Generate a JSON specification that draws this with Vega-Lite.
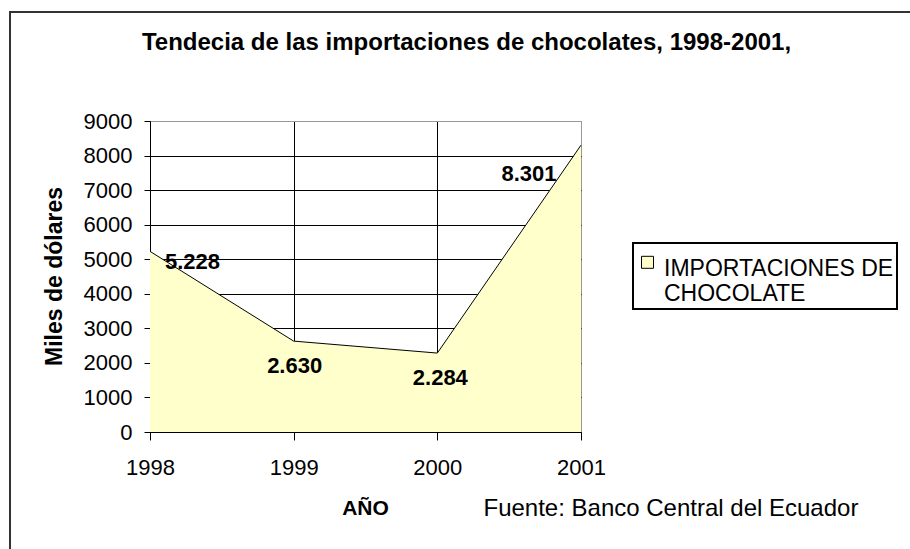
{
  "$schema": "https://vega.github.io/schema/vega-lite/v6.json",
  "width": 431,
  "height": 311,
  "autosize": {"type": "none"},
  "padding": {"left": 150, "top": 121, "right": 329, "bottom": 117},
  "background": "white",
  "config": {
    "font": "Liberation Sans",
    "view": {"stroke": "#999999", "strokeWidth": 1},
    "legend": {"strokeWidth": 2},
    "locale": {"number": {"decimal": ",", "thousands": ".", "grouping": [3], "currency": ["$", ""]}}
  },
  "data": {
    "values": [
      {"anio": 1998, "valor": 5228, "serie": "IMPORTACIONES DE CHOCOLATE"},
      {"anio": 1999, "valor": 2630, "serie": "IMPORTACIONES DE CHOCOLATE"},
      {"anio": 2000, "valor": 2284, "serie": "IMPORTACIONES DE CHOCOLATE"},
      {"anio": 2001, "valor": 8301, "serie": "IMPORTACIONES DE CHOCOLATE"}
    ]
  },
  "layer": [
    {
      "layer": [
        {
          "mark": {"type": "area", "opacity": 1},
          "encoding": {
            "x": {
              "field": "anio", "type": "quantitative",
              "scale": {"domain": [1998, 2001], "nice": false, "zero": false},
              "axis": {
                "orient": "bottom",
                "values": [1998, 1999, 2000, 2001], "tickCount": 4, "format": "d", "labelOverlap": false,
                "title": "AÑO", "titleX": 215, "titleY": 76, "titleAlign": "center", "titleBaseline": "middle",
                "titleFontSize": 21, "titleFontWeight": "bold", "titleColor": "black",
                "labelFontSize": 22, "labelColor": "black", "labelPadding": 17, "labelFlush": false,
                "tickSize": 8, "tickColor": "black", "domainColor": "black",
                "grid": true,
                "gridColor": {"condition": {"test": "datum.value == 2001", "value": "#999999"}, "value": "black"}
              }
            },
            "y": {
              "field": "valor", "type": "quantitative",
              "scale": {"domain": [0, 9000], "nice": false},
              "axis": {
                "orient": "left",
                "values": [0, 1000, 2000, 3000, 4000, 5000, 6000, 7000, 8000, 9000], "tickCount": 10,
                "format": "d", "labelOverlap": false,
                "title": "Miles de dólares", "titleX": -96, "titleY": 155, "titleAngle": -90,
                "titleAlign": "center", "titleBaseline": "middle",
                "titleFontSize": 23, "titleFontWeight": "bold", "titleColor": "black",
                "labelFontSize": 22, "labelColor": "black", "labelPadding": 12,
                "tickSize": 6, "tickColor": "black", "domainColor": "black",
                "grid": true,
                "gridColor": {"condition": {"test": "datum.value == 9000", "value": "#999999"}, "value": "black"}
              }
            },
            "color": {
              "field": "serie", "type": "nominal",
              "scale": {"range": ["#FFFFCC"]},
              "legend": {
                "orient": "none", "legendX": 483, "legendY": 122,
                "title": null, "strokeColor": "black", "fillColor": "white", "padding": 3,
                "symbolType": "M-1,-0.2L1,-0.2L1,1.8L-1,1.8Z", "symbolSize": 144, "symbolStrokeColor": "black",
                "symbolStrokeWidth": 1, "symbolOpacity": 1,
                "labelFontSize": 23, "labelColor": "black", "labelLimit": 400, "labelOffset": 5,
                "labelBaseline": "top",
                "labelExpr": "['IMPORTACIONES DE\u00a0\u00a0\u00a0', 'CHOCOLATE']"
              }
            }
          }
        },
        {
          "mark": {"type": "line", "color": "black", "strokeWidth": 1},
          "encoding": {
            "x": {"field": "anio", "type": "quantitative"},
            "y": {"field": "valor", "type": "quantitative"}
          }
        },
        {
          "transform": [{"filter": "datum.anio == 1998"}],
          "mark": {"type": "text", "align": "left", "baseline": "middle", "dx": 15, "dy": 11, "fontSize": 22, "fontWeight": "bold", "color": "black"},
          "encoding": {
            "x": {"field": "anio", "type": "quantitative"},
            "y": {"field": "valor", "type": "quantitative"},
            "text": {"field": "valor", "type": "quantitative", "format": ",d"}
          }
        },
        {
          "transform": [{"filter": "datum.anio == 1999"}],
          "mark": {"type": "text", "align": "center", "baseline": "middle", "dx": 1, "dy": 25, "fontSize": 22, "fontWeight": "bold", "color": "black"},
          "encoding": {
            "x": {"field": "anio", "type": "quantitative"},
            "y": {"field": "valor", "type": "quantitative"},
            "text": {"field": "valor", "type": "quantitative", "format": ",d"}
          }
        },
        {
          "transform": [{"filter": "datum.anio == 2000"}],
          "mark": {"type": "text", "align": "center", "baseline": "middle", "dx": 3, "dy": 25, "fontSize": 22, "fontWeight": "bold", "color": "black"},
          "encoding": {
            "x": {"field": "anio", "type": "quantitative"},
            "y": {"field": "valor", "type": "quantitative"},
            "text": {"field": "valor", "type": "quantitative", "format": ",d"}
          }
        },
        {
          "transform": [{"filter": "datum.anio == 2001"}],
          "mark": {"type": "text", "align": "center", "baseline": "middle", "dx": -52, "dy": 29, "fontSize": 22, "fontWeight": "bold", "color": "black"},
          "encoding": {
            "x": {"field": "anio", "type": "quantitative"},
            "y": {"field": "valor", "type": "quantitative"},
            "text": {"field": "valor", "type": "quantitative", "format": ",d"}
          }
        }
      ]
    },
    {
      "mark": {"type": "point", "opacity": 0},
      "encoding": {
        "x": {
          "field": "anio", "type": "quantitative",
          "axis": {
            "orient": "top", "labels": false, "ticks": false, "domain": false, "grid": false,
            "title": "Tendecia de las importaciones de chocolates, 1998-2001,", "titleAngle": 0,
            "titleX": 316, "titleY": -78.5, "titleAlign": "center", "titleBaseline": "middle",
            "titleFontSize": 24, "titleFontWeight": "bold", "titleColor": "black"
          }
        },
        "y": {
          "field": "valor", "type": "quantitative",
          "axis": {
            "orient": "right", "labels": false, "ticks": false, "domain": false, "grid": false,
            "title": "Fuente: Banco Central del Ecuador", "titleAngle": 0,
            "titleX": -98, "titleY": 387, "titleAlign": "left", "titleBaseline": "middle",
            "titleFontSize": 24, "titleFontWeight": "normal", "titleColor": "black"
          }
        },
        "size": {
          "field": "anio", "type": "quantitative",
          "legend": {
            "orient": "none", "legendX": -140, "legendY": -109,
            "title": null, "padding": 600, "strokeColor": "#333333", "fillColor": null,
            "labelExpr": "''", "labelOpacity": 0, "symbolOpacity": 0
          }
        }
      }
    }
  ],
  "resolve": {
    "scale": {"x": "independent", "y": "independent"},
    "axis": {"x": "independent", "y": "independent"}
  }
}
